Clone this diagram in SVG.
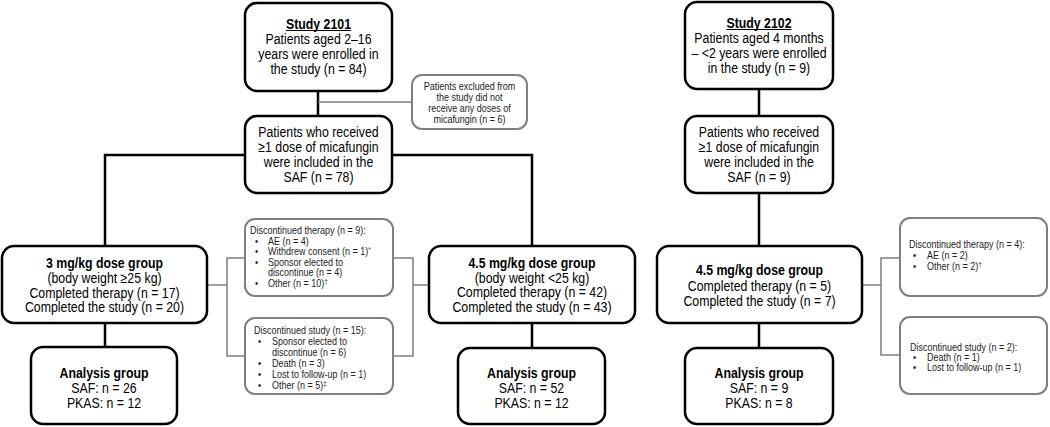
<svg xmlns="http://www.w3.org/2000/svg" width="1050" height="427" viewBox="0 0 1050 427">
<style>
.box{fill:#fff;stroke:#000;stroke-width:2.5}
.gbox{fill:#fff;stroke:#7f7f7f;stroke-width:2}
.conn{stroke:#000;stroke-width:2.5;fill:none}
.gconn{stroke:#7f7f7f;stroke-width:1.5;fill:none}
.ul{stroke:#000;stroke-width:1.2}
.t{font-family:"Liberation Sans",Arial,sans-serif;font-size:14.5px;fill:#000;text-anchor:middle}
.b{font-weight:bold}
.s{font-family:"Liberation Sans",Arial,sans-serif;font-size:10px;fill:#222}
.sc{text-anchor:middle}
</style>
<rect width="1050" height="427" fill="#fff"/>
<g id="connectors">
<path class="conn" d="M318,91 V116"/>
<path class="conn" d="M105,246 V155 H532 V246"/>
<path class="conn" d="M105,323 V347"/>
<path class="conn" d="M532,323 V348"/>
<path class="conn" d="M759,89 V116"/>
<path class="conn" d="M759,193 V246"/>
<path class="conn" d="M759,323 V348"/>
<path class="gconn" d="M318,102 H412"/>
<path class="gconn" d="M207,285 H227"/>
<path class="gconn" d="M245,258 H227 V356 H245"/>
<path class="gconn" d="M393,258 H413 V356 H393"/>
<path class="gconn" d="M413,285 H429"/>
<path class="gconn" d="M862,285 H881"/>
<path class="gconn" d="M900,258 H881 V355 H900"/>
</g>
<g id="study2101">
<rect class="box" x="245" y="3" width="147" height="88" rx="12"/>
<line class="ul" x1="286" y1="30.5" x2="351" y2="30.5"/>
<g transform="matrix(0.85 0 0 1 318.5 0)">
<text class="t b" x="0" y="29">Study 2101</text>
<text class="t" x="0" y="44">Patients aged 2–16</text>
<text class="t" x="0" y="59">years were enrolled in</text>
<text class="t" x="0" y="74">the study (n = 84)</text>
</g>
</g>
<g id="excluded">
<rect class="gbox" x="412" y="75" width="115" height="54" rx="10"/>
<g transform="matrix(0.9 0 0 1 469.5 0)">
<text class="s sc" x="0" y="90.5">Patients excluded from</text>
<text class="s sc" x="0" y="101.5">the study did not</text>
<text class="s sc" x="0" y="112.5">receive any doses of</text>
<text class="s sc" x="0" y="123">micafungin (n = 6)</text>
</g>
</g>
<g id="saf2101">
<rect class="box" x="245" y="116" width="147" height="77" rx="12"/>
<g transform="matrix(0.85 0 0 1 318.5 0)">
<text class="t" x="0" y="137">Patients who received</text>
<text class="t" x="0" y="152">≥1 dose of micafungin</text>
<text class="t" x="0" y="167">were included in the</text>
<text class="t" x="0" y="182">SAF (n = 78)</text>
</g>
</g>
<g id="dose3">
<rect class="box" x="2" y="246" width="205" height="77" rx="12"/>
<g transform="matrix(0.85 0 0 1 104.5 0)">
<text class="t b" x="0" y="268">3 mg/kg dose group</text>
<text class="t" x="0" y="283">(body weight ≥25 kg)</text>
<text class="t" x="0" y="298">Completed therapy (n = 17)</text>
<text class="t" x="0" y="312">Completed the study (n = 20)</text>
</g>
</g>
<g id="analysis1">
<rect class="box" x="31" y="347" width="146" height="77" rx="12"/>
<g transform="matrix(0.85 0 0 1 104 0)">
<text class="t b" x="0" y="378">Analysis group</text>
<text class="t" x="0" y="393">SAF: n = 26</text>
<text class="t" x="0" y="408">PKAS: n = 12</text>
</g>
</g>
<g id="discTherapy2101">
<rect class="gbox" x="245" y="219" width="148" height="77" rx="10"/>
<g transform="matrix(0.9 0 0 1 250 0)">
<text class="s" x="0" y="234.5">Discontinued therapy (n = 9):</text>
<text class="s" x="5.6" y="245.5">•</text><text class="s" x="20" y="245.5">AE (n = 4)</text>
<text class="s" x="5.6" y="255.5">•</text><text class="s" x="20" y="255.5">Withdrew consent (n = 1)<tspan font-size="7" dy="-3">*</tspan></text>
<text class="s" x="5.6" y="266.5">•</text><text class="s" x="20" y="266.5">Sponsor elected to</text>
<text class="s" x="20" y="276.5">discontinue (n = 4)</text>
<text class="s" x="5.6" y="287.5">•</text><text class="s" x="20" y="287.5">Other (n = 10)<tspan font-size="7" dy="-3">†</tspan></text>
</g>
</g>
<g id="discStudy2101">
<rect class="gbox" x="245" y="318" width="148" height="76" rx="10"/>
<g transform="matrix(0.9 0 0 1 254 0)">
<text class="s" x="0" y="333.6">Discontinued study (n = 15):</text>
<text class="s" x="4.4" y="344.6">•</text><text class="s" x="20" y="344.6">Sponsor elected to</text>
<text class="s" x="20" y="355.6">discontinue (n = 6)</text>
<text class="s" x="4.4" y="366.6">•</text><text class="s" x="20" y="366.6">Death (n = 3)</text>
<text class="s" x="4.4" y="377.6">•</text><text class="s" x="20" y="377.6">Lost to follow-up (n = 1)</text>
<text class="s" x="4.4" y="388.6">•</text><text class="s" x="20" y="388.6">Other (n = 5)<tspan font-size="7" dy="-3">‡</tspan></text>
</g>
</g>
<g id="dose45a">
<rect class="box" x="429" y="246" width="206" height="77" rx="12"/>
<g transform="matrix(0.85 0 0 1 532 0)">
<text class="t b" x="0" y="268">4.5 mg/kg dose group</text>
<text class="t" x="0" y="283">(body weight &lt;25 kg)</text>
<text class="t" x="0" y="297">Completed therapy (n = 42)</text>
<text class="t" x="0" y="312">Completed the study (n = 43)</text>
</g>
</g>
<g id="analysis2">
<rect class="box" x="458" y="348" width="147" height="76" rx="12"/>
<g transform="matrix(0.85 0 0 1 531.5 0)">
<text class="t b" x="0" y="378">Analysis group</text>
<text class="t" x="0" y="393">SAF: n = 52</text>
<text class="t" x="0" y="408">PKAS: n = 12</text>
</g>
</g>
<g id="study2102">
<rect class="box" x="685" y="2" width="148" height="87" rx="12"/>
<line class="ul" x1="726.5" y1="29.5" x2="791.5" y2="29.5"/>
<g transform="matrix(0.85 0 0 1 759 0)">
<text class="t b" x="0" y="28">Study 2102</text>
<text class="t" x="0" y="43.5">Patients aged 4 months</text>
<text class="t" x="0" y="58.5">– &lt;2 years were enrolled</text>
<text class="t" x="0" y="73.5">in the study (n = 9)</text>
</g>
</g>
<g id="saf2102">
<rect class="box" x="685" y="116" width="148" height="77" rx="12"/>
<g transform="matrix(0.85 0 0 1 759 0)">
<text class="t" x="0" y="137">Patients who received</text>
<text class="t" x="0" y="152">≥1 dose of micafungin</text>
<text class="t" x="0" y="167">were included in the</text>
<text class="t" x="0" y="182">SAF (n = 9)</text>
</g>
</g>
<g id="dose45b">
<rect class="box" x="657" y="246" width="205" height="77" rx="12"/>
<g transform="matrix(0.85 0 0 1 759.5 0)">
<text class="t b" x="0" y="275">4.5 mg/kg dose group</text>
<text class="t" x="0" y="291">Completed therapy (n = 5)</text>
<text class="t" x="0" y="306">Completed the study (n = 7)</text>
</g>
</g>
<g id="analysis3">
<rect class="box" x="685" y="348" width="148" height="76" rx="12"/>
<g transform="matrix(0.85 0 0 1 759 0)">
<text class="t b" x="0" y="378">Analysis group</text>
<text class="t" x="0" y="393">SAF: n = 9</text>
<text class="t" x="0" y="408">PKAS: n = 8</text>
</g>
</g>
<g id="discTherapy2102">
<rect class="gbox" x="900" y="218" width="147" height="78" rx="10"/>
<g transform="matrix(0.9 0 0 1 909 0)">
<text class="s" x="0" y="247.6">Discontinued therapy (n = 4):</text>
<text class="s" x="4.4" y="258.6">•</text><text class="s" x="20" y="258.6">AE (n = 2)</text>
<text class="s" x="4.4" y="269.6">•</text><text class="s" x="20" y="269.6">Other (n = 2)<tspan font-size="7" dy="-3">†</tspan></text>
</g>
</g>
<g id="discStudy2102">
<rect class="gbox" x="900" y="317" width="147" height="77" rx="10"/>
<g transform="matrix(0.9 0 0 1 910 0)">
<text class="s" x="0" y="350.6">Discontinued study (n = 2):</text>
<text class="s" x="3.3" y="361">•</text><text class="s" x="19" y="361">Death (n = 1)</text>
<text class="s" x="3.3" y="371">•</text><text class="s" x="19" y="371">Lost to follow-up (n = 1)</text>
</g>
</g>
</svg>
